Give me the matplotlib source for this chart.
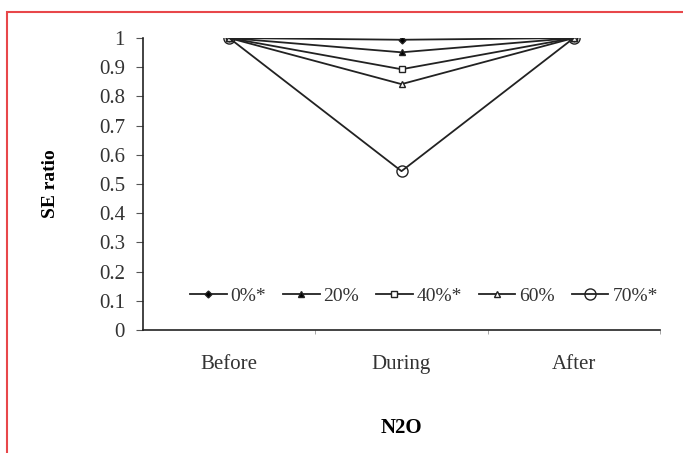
import matplotlib
matplotlib.use("Agg")
import matplotlib.pyplot as plt
from matplotlib.patches import Rectangle
from matplotlib.ticker import FixedLocator

categories = ["Before", "During", "After"]
series_labels = ["0%*", "20%", "40%*", "60%", "70%*"]
values = {
    "0%*": [1.0, 0.994, 1.0],
    "20%": [1.0, 0.951, 1.0],
    "40%*": [1.0, 0.893, 1.0],
    "60%": [1.0, 0.842, 1.0],
    "70%*": [1.0, 0.544, 1.0],
}
markers = {
    "0%*": dict(marker="D", ms=3.5, mfc="black"),
    "20%": dict(marker="^", ms=5, mfc="black"),
    "40%*": dict(marker="s", ms=5, mfc="white"),
    "60%": dict(marker="^", ms=5, mfc="white"),
    "70%*": dict(marker="o", ms=8, mfc="none"),
}
yticks = [0, 0.1, 0.2, 0.3, 0.4, 0.5, 0.6, 0.7, 0.8, 0.9, 1]
ytick_labels = ["0", "0.1", "0.2", "0.3", "0.4", "0.5", "0.6", "0.7", "0.8", "0.9", "1"]

plt.rcParams["font.family"] = ["Liberation Serif", "DejaVu Serif"]

fig = plt.figure(figsize=(6.83, 4.53), dpi=100)
ax = fig.add_axes([143/683, 1-330/453, 517/683, (330-38)/453])

x = list(range(len(categories)))
for lab in series_labels:
    ax.plot(x, values[lab], color="#222222", lw=1.3, mec="#222222", mew=1.0,
            label=lab, **markers[lab])

ax.set_xlim(-0.5, 2.5)
ax.set_ylim(0, 1)
ax.set_yticks(yticks)
ax.set_yticklabels(ytick_labels, fontsize=15, color="#333333")
ax.set_xticks(x)
ax.set_xticklabels(categories, fontsize=15, color="#333333")
ax.tick_params(axis="x", length=0, pad=18)
ax.xaxis.set_minor_locator(FixedLocator([0.5, 1.5, 2.5]))
ax.tick_params(axis="x", which="minor", length=3, direction="out", color="#999999")
ax.tick_params(axis="y", length=5, direction="out", color="#555555", pad=8)

for s in ["top", "right"]:
    ax.spines[s].set_visible(False)
ax.spines["left"].set_color("#222222")
ax.spines["bottom"].set_color("#222222")
ax.spines["left"].set_linewidth(1.2)
ax.spines["bottom"].set_linewidth(1.2)

ax.set_ylabel("SE ratio", fontsize=14, fontweight="bold", labelpad=29)
ax.set_xlabel("N2O", fontsize=15, fontweight="bold", labelpad=32)

leg = ax.legend(loc="center", bbox_to_anchor=(0.543, 0.117), ncol=5, frameon=False,
                fontsize=14, handlelength=1.9, handletextpad=0.2, columnspacing=0.85)
for t in leg.get_texts():
    t.set_color("#333333")

fig.patches.append(Rectangle((7/683, -0.1), 1.2, 1-12/453+0.1, transform=fig.transFigure,
                             fill=False, edgecolor="#e8474a", lw=1.5))

fig.savefig("out.png", dpi=100)
